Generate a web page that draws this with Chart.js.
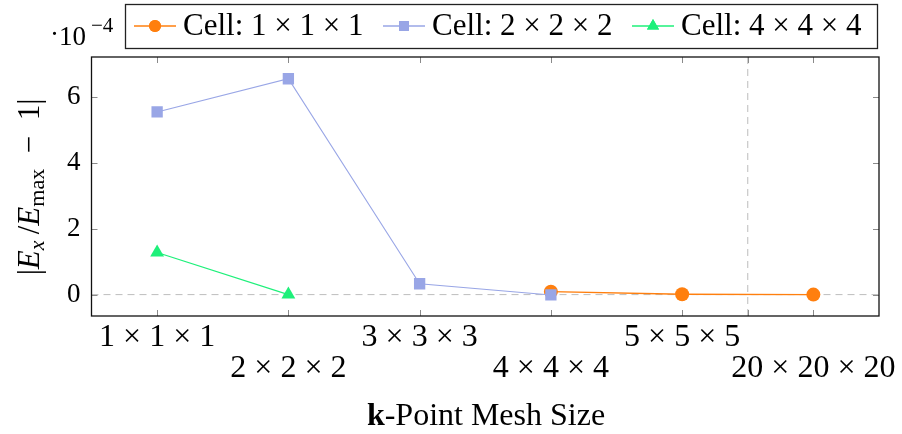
<!DOCTYPE html>
<html>
<head>
<meta charset="utf-8">
<script src="https://cdn.jsdelivr.net/npm/chart.js@4.4.0/dist/chart.umd.min.js"></script>
<style>
  html, body { margin: 0; padding: 0; background: #fff; }
  #wrap { width: 902px; height: 434px; }
</style>
</head>
<body>
<div id="wrap"><canvas id="kChart" width="902" height="434"></canvas></div>
<script>
// k-point mesh categories, placed at x = 1..6
const meshLabels = ['1 × 1 × 1', '2 × 2 × 2', '3 × 3 × 3', '4 × 4 × 4', '5 × 5 × 5', '20 × 20 × 20'];
const meshPos = [1, 2, 3, 4, 5, 6];
const breakPos = 5.5;           // dashed separator before 20x20x20
const yTicks = [0, 2, 4, 6];    // in units of 1e-4

// |Ex/Emax - 1|, in units of 1e-4
const cell1X = [4, 5, 6];
const cell1Y = [0.09, 0.01, 0.0];
const cell2X = [1, 2, 3, 4];
const cell2Y = [5.55, 6.56, 0.33, -0.01];
const cell4X = [1, 2];
const cell4Y = [1.28, 0.0];

const orange = '#ff7f0e';
const lavender = '#99a6e6';
const green = '#1ef07a';
const serif = "'Liberation Serif', 'DejaVu Serif', serif";
const fs = 32;

function pts(xs, ys) { return xs.map((x, i) => ({ x: x, y: ys[i] })); }

const series = [
  { label: 'Cell: 1 × 1 × 1', data: pts(cell1X, cell1Y), color: orange, style: 'circle', r: 7, lw: 1.4, order: 3 },
  { label: 'Cell: 2 × 2 × 2', data: pts(cell2X, cell2Y), color: lavender, style: 'rect', r: 8, lw: 1.1, order: 2 },
  { label: 'Cell: 4 × 4 × 4', data: pts(cell4X, cell4Y), color: green, style: 'triangle', r: 8, lw: 1.2, order: 1 }
];

const decor = {
  id: 'decor',
  beforeDatasetsDraw(chart) {
    const { ctx, chartArea: a, scales: { x, y } } = chart;
    ctx.save();
    ctx.strokeStyle = '#bdbdbd';
    ctx.lineWidth = 1;
    ctx.setLineDash([7, 5]);
    const y0 = y.getPixelForValue(0);
    ctx.beginPath(); ctx.moveTo(a.left, y0); ctx.lineTo(a.right, y0); ctx.stroke();
    const xb = x.getPixelForValue(breakPos);
    ctx.beginPath(); ctx.moveTo(xb, a.top); ctx.lineTo(xb, a.bottom); ctx.stroke();
    ctx.restore();
  },
  afterDraw(chart) {
    const { ctx, chartArea: a, scales: { x, y } } = chart;
    ctx.save();
    // inward tick marks
    ctx.strokeStyle = '#8a8a8a';
    ctx.lineWidth = 1;
    x.ticks.forEach(t => {
      const px = Math.round(x.getPixelForValue(t.value)) + 0.5;
      ctx.beginPath();
      ctx.moveTo(px, a.bottom); ctx.lineTo(px, a.bottom - 6);
      ctx.moveTo(px, a.top); ctx.lineTo(px, a.top + 6);
      ctx.stroke();
    });
    y.ticks.forEach(t => {
      const py = Math.round(y.getPixelForValue(t.value)) + 0.5;
      ctx.beginPath();
      ctx.moveTo(a.left, py); ctx.lineTo(a.left + 6, py);
      ctx.moveTo(a.right, py); ctx.lineTo(a.right - 6, py);
      ctx.stroke();
    });
    // frame
    ctx.strokeStyle = '#111';
    ctx.lineWidth = 1.3;
    ctx.strokeRect(a.left, a.top, a.right - a.left, a.bottom - a.top);

    ctx.fillStyle = '#000';
    ctx.textBaseline = 'alphabetic';
    // scale factor label
    ctx.font = '27px ' + serif;
    ctx.fillText('·', 50, 43);
    ctx.fillText('10', 59, 45);
    ctx.font = '21px ' + serif;
    ctx.fillText('\u22124', 91, 32);

    // x title
    ctx.font = 'bold ' + fs + 'px ' + serif;
    const kW = ctx.measureText('k').width;
    ctx.font = fs + 'px ' + serif;
    const rest = '-Point Mesh Size';
    const rW = ctx.measureText(rest).width;
    let sx = 486 - (kW + rW) / 2;
    ctx.font = 'bold ' + fs + 'px ' + serif;
    ctx.fillText('k', sx, 425);
    ctx.font = fs + 'px ' + serif;
    ctx.fillText(rest, sx + kW, 425);

    // y title, rotated
    ctx.translate(39, 187);
    ctx.rotate(-Math.PI / 2);
    const parts = [
      { t: '|', f: '31px ' + serif, dy: 0 },
      { t: 'E', f: 'italic 31px ' + serif, dy: 0 },
      { t: 'x', f: 'italic 22px ' + serif, dy: 5 },
      { t: '\u2009/', f: '31px ' + serif, dy: 0 },
      { t: 'E', f: 'italic 31px ' + serif, dy: 0 },
      { t: 'max', f: '22px ' + serif, dy: 5 },
      { t: '\u2002\u2212\u20021', f: '31px ' + serif, dy: 0 },
      { t: '|', f: '31px ' + serif, dy: 0 }
    ];
    let total = 0;
    parts.forEach(p => { ctx.font = p.f; p.w = ctx.measureText(p.t).width; total += p.w; });
    let cx = -total / 2;
    parts.forEach(p => { ctx.font = p.f; ctx.fillText(p.t, cx, p.dy); cx += p.w; });
    ctx.restore();

    // legend box
    ctx.save();
    ctx.strokeStyle = '#222';
    ctx.lineWidth = 1.3;
    ctx.strokeRect(125.5, 4.5, 752, 44);
    ctx.font = '31px ' + serif;
    ctx.textBaseline = 'middle';
    const starts = [134, 383, 632];
    series.forEach((s, i) => {
      const lx = starts[i];
      const ly = 26;
      ctx.strokeStyle = s.color;
      ctx.lineWidth = 1.3;
      ctx.beginPath(); ctx.moveTo(lx, ly); ctx.lineTo(lx + 42, ly); ctx.stroke();
      ctx.fillStyle = s.color;
      Chart.helpers.drawPoint(ctx, { pointStyle: s.style, radius: s.r - 1, borderWidth: 0, rotation: 0 }, lx + 21, ly);
      ctx.fill();
      ctx.fillStyle = '#000';
      ctx.fillText(s.label, lx + 49, ly + 1);
    });
    ctx.restore();
  }
};

new Chart(document.getElementById('kChart').getContext('2d'), {
  type: 'line',
  data: {
    datasets: series.map(s => ({
      label: s.label,
      data: s.data,
      borderColor: s.color,
      backgroundColor: s.color,
      pointBackgroundColor: s.color,
      pointBorderColor: s.color,
      pointBorderWidth: 0,
      pointStyle: s.style,
      pointRadius: s.r,
      borderWidth: s.lw,
      tension: 0,
      order: s.order
    }))
  },
  options: {
    responsive: false,
    animation: false,
    layout: { padding: { left: 0, right: 23, top: 57, bottom: 0 } },
    plugins: { legend: { display: false }, tooltip: { enabled: false } },
    scales: {
      x: {
        type: 'linear',
        min: 0.5,
        max: 6.5,
        afterBuildTicks: s => { s.ticks = meshPos.slice(0, 5).concat([breakPos, 6]).map(v => ({ value: v })); },
        afterFit: s => { s.height = 118; s.paddingLeft = 0; s.paddingRight = 0; },
        grid: { display: false, drawTicks: false },
        border: { display: false },
        ticks: {
          autoSkip: false,
          maxRotation: 0,
          padding: 6,
          color: '#000',
          font: { family: serif, size: fs, lineHeight: 31 / fs },
          callback: v => {
            const i = meshPos.indexOf(v);
            if (i < 0) return '';
            return i % 2 === 0 ? [meshLabels[i]] : ['', meshLabels[i]];
          }
        }
      },
      y: {
        min: -0.65,
        max: 7.22,
        afterBuildTicks: s => { s.ticks = yTicks.map(v => ({ value: v })); },
        afterFit: s => { s.width = 91.5; s.paddingTop = 0; s.paddingBottom = 0; },
        grid: { display: false, drawTicks: false },
        border: { display: false },
        ticks: {
          padding: 11,
          color: '#000',
          font: { family: serif, size: 27 }
        }
      }
    }
  },
  plugins: [decor]
});
</script>
</body>
</html>
